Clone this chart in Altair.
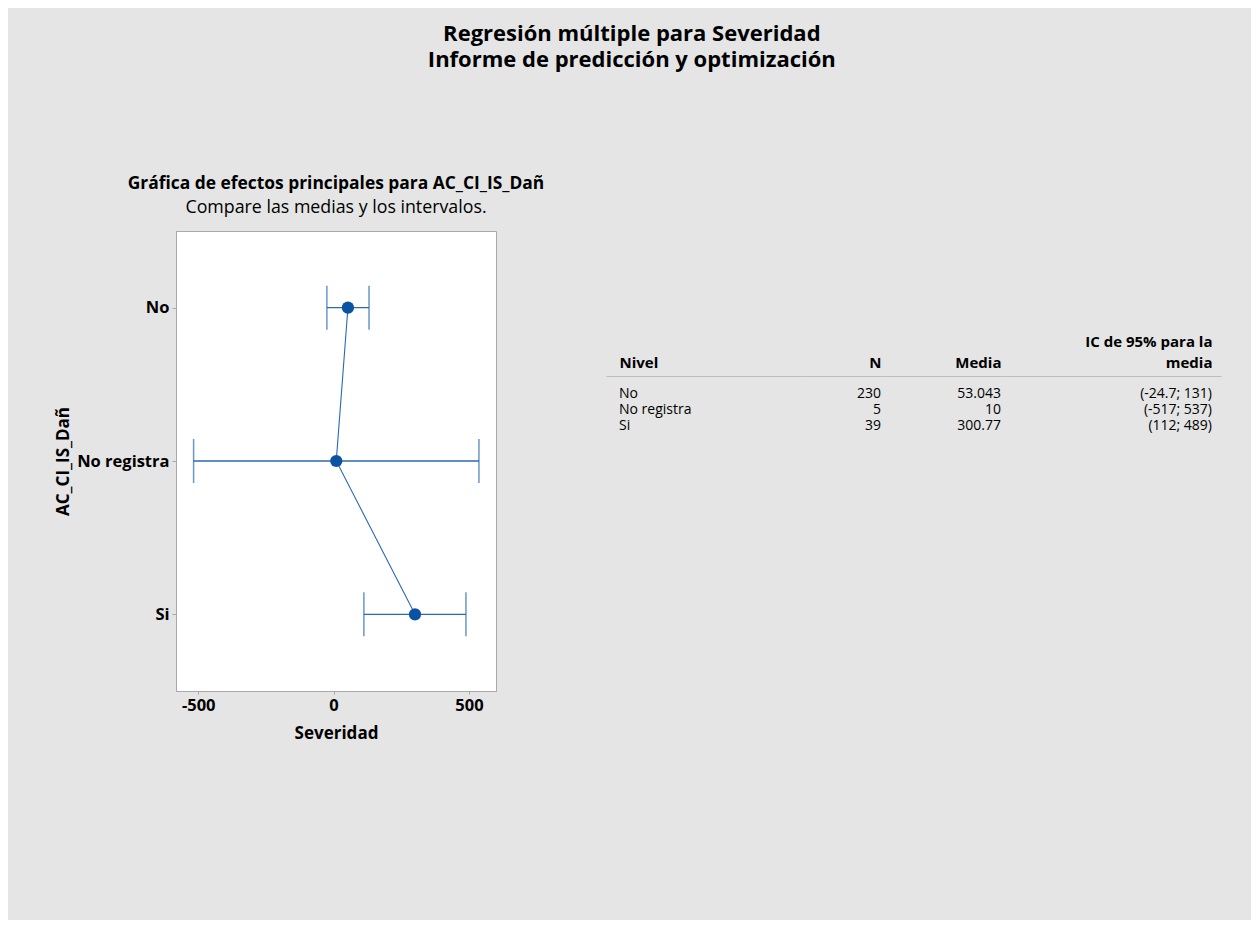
import altair as alt
import pandas as pd

# ---- data ----
levels = ["No", "No registra", "Si"]
n_obs = [230, 5, 39]
means = [53.043, 10, 300.77]
ci_low = [-24.7, -517, 112]
ci_high = [131, 537, 489]
n_labels = ["230", "5", "39"]
mean_labels = ["53.043", "10", "300.77"]
ci_labels = ["(-24.7; 131)", "(-517; 537)", "(112; 489)"]
header_labels = ["Nivel", "N", "Media", "IC de 95% para la|media"]

main_title = ["Regresión múltiple para Severidad", "Informe de predicción y optimización"]
plot_title = "Gráfica de efectos principales para AC_CI_IS_Dañ"
plot_subtitle = "Compare las medias y los intervalos."

FONT = "Open Sans"
LINE = "#2a69b5"
DOT = "#0b52a2"
FRAME = "#a9a9a9"

df = pd.DataFrame({
    "Nivel": levels,
    "idx": list(range(len(levels))),
    "Media": means,
    "Lo": ci_low,
    "Hi": ci_high,
})

x_scale = alt.Scale(domain=[-582, 600], nice=False, zero=False)
x_axis = alt.Axis(values=[-500, 0, 500], grid=False, labelExpr="'' + datum.value",
                  labelFontWeight="bold", labelFontSize=16.5, labelColor="black",
                  titleFontWeight="bold", titleFontSize=17, titleColor="black",
                  tickSize=3, tickColor=FRAME, domainColor=FRAME, labelPadding=3,
                  titlePadding=12)
y_scale = alt.Scale(domain=levels, type="point", padding=0.5)
y_axis = alt.Axis(grid=False, labelFontWeight="bold", labelFontSize=16.5,
                  labelColor="black", titleFontWeight="bold", titleFontSize=17,
                  titleColor="black", tickSize=4, tickColor=FRAME,
                  domainColor=FRAME, labelPadding=3, titlePadding=4)

XT = "Severidad"
YT = "AC_CI_IS_Dañ"

base = alt.Chart(df)

err = base.mark_rule(color=LINE, strokeWidth=1.3).encode(
    x=alt.X("Lo:Q", scale=x_scale, axis=x_axis, title=XT),
    x2="Hi:Q",
    y=alt.Y("Nivel:N", scale=y_scale, axis=y_axis, title=YT),
)
cap_lo = base.mark_tick(color=LINE, thickness=1.5, size=44, orient="vertical").encode(
    x=alt.X("Lo:Q", scale=x_scale, title=XT),
    y=alt.Y("Nivel:N", scale=y_scale, title=YT),
)
cap_hi = base.mark_tick(color=LINE, thickness=1.5, size=44, orient="vertical").encode(
    x=alt.X("Hi:Q", scale=x_scale, title=XT),
    y=alt.Y("Nivel:N", scale=y_scale, title=YT),
)
conn = base.mark_line(color=LINE, strokeWidth=1.1).encode(
    x=alt.X("Media:Q", scale=x_scale, title=XT),
    y=alt.Y("Nivel:N", scale=y_scale, title=YT),
    order="idx:Q",
)
pts = base.mark_circle(color=DOT, size=150, opacity=1).encode(
    x=alt.X("Media:Q", scale=x_scale, title=XT),
    y=alt.Y("Nivel:N", scale=y_scale, title=YT),
)

effects = alt.layer(err, cap_lo, cap_hi, conn, pts).properties(
    width=320,
    height=460,
    title=alt.TitleParams(text=plot_title, subtitle=plot_subtitle, anchor="middle",
                          frame="group", fontSize=17.4, fontWeight="bold",
                          color="black", subtitleFontSize=17.8,
                          subtitleColor="black", subtitlePadding=7, offset=14),
)

# ---- table: one narrow chart per column, joined side by side ----
col_texts = [levels, n_labels, mean_labels, ci_labels]
col_widths = [200, 75, 120, 220]
col_side = ["left", "right", "right", "right"]
col_shift = [13, 0, 0, -9]
header_pad = [6, 6, 6, 27]

row_scale = alt.Scale(domain=levels, type="point", padding=0, range=[163, 195])

columns = []
for head, texts, w, side, shift, hpad in zip(header_labels, col_texts, col_widths,
                                             col_side, col_shift, header_pad):
    cdf = pd.DataFrame({"Nivel": levels, "col": [head] * len(levels), "txt": texts})
    xs = alt.Scale(domain=[head], type="point", padding=0,
                   align=0 if side == "left" else 1)
    xa = alt.Axis(orient="top", offset=-145, title=None, ticks=False,
                  domainColor="#bdbdbd", labelFontWeight="bold", labelFontSize=15,
                  labelColor="black", labelAngle=0, labelPadding=hpad,
                  labelOverlap=False, labelAlign=side, labelOffset=shift,
                  labelExpr="split(datum.label, '|')", labelLineHeight=21)
    ch = alt.Chart(cdf).mark_text(align=side, baseline="middle", fontSize=14,
                                  color="black", dx=shift).encode(
        x=alt.X("col:N", scale=xs, axis=xa),
        y=alt.Y("Nivel:N", scale=row_scale, axis=None),
        text="txt:N",
    ).properties(width=w, height=200,
                 view=alt.ViewBackground(fill="transparent", stroke="transparent"))
    columns.append(ch)

table = alt.hconcat(*columns, spacing=0, bounds="flush")

chart = alt.hconcat(effects, table, spacing=60).properties(
    title=alt.TitleParams(text=main_title, anchor="middle", fontSize=22,
                          fontWeight="bold", color="black", lineHeight=26,
                          offset=102, dx=-6),
    padding={"left": 46, "top": 15, "right": 29, "bottom": 178},
).configure(background="#e5e5e5", font=FONT).configure_view(
    fill="white", stroke=FRAME)

chart.save("out.html", embed_options={"renderer": "svg", "actions": False})
